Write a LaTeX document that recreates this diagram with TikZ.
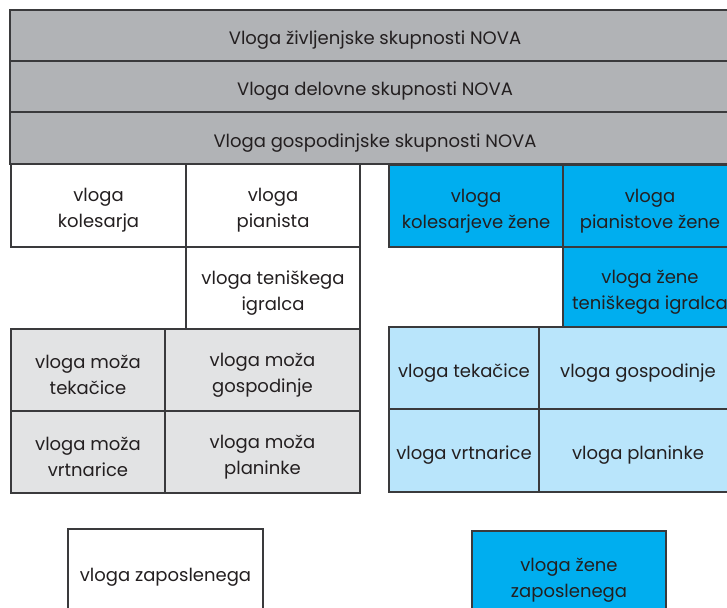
\documentclass[tikz,border=0pt]{standalone}
\usepackage{fontspec}
\setmainfont{Poppins}
\definecolor{bargray}{HTML}{B1B3B6}
\definecolor{lightgray}{HTML}{E2E3E4}
\definecolor{cyanblue}{HTML}{00AEEF}
\definecolor{paleblue}{HTML}{B9E5FB}
\definecolor{edge}{HTML}{3A3A3C}
\definecolor{ink}{HTML}{231F20}
\tikzset{
  lbl/.style={align=center, text=ink, inner sep=0pt, yshift=-5pt,
    font=\fontsize{18}{26}\selectfont},
  cell/.style={draw=edge, line width=1.1pt, rectangle, inner sep=0pt,
    label={[lbl]center:{#1}}},
  bar/.style={cell=#1, fill=bargray, minimum width=730pt, minimum height=51pt},
  whitecell/.style={cell=#1, fill=white},
  greycell/.style={cell=#1, fill=lightgray},
  bluecell/.style={cell=#1, fill=cyanblue},
  palecell/.style={cell=#1, fill=paleblue},
}
\begin{document}
\begin{tikzpicture}[x=1pt, y=-1pt]
\useasboundingbox (0,0) rectangle (727,607);
\clip (0,0) rectangle (727,607);
% header bars
\node[bar={Vloga življenjske skupnosti NOVA}] (life) at (375,35.5) {};
\node[bar={Vloga delovne skupnosti NOVA}] (work) at (375,86.5) {};
\node[bar={Vloga gospodinjske skupnosti NOVA}, minimum height=52pt] (home) at (375,138) {};
% husband side
\node[whitecell={vloga\\kolesarja}, minimum width=175pt, minimum height=83pt] (cyc) at (98.5,205.5) {};
\node[whitecell={vloga\\pianista}, minimum width=174pt, minimum height=83pt] (pia) at (273,205.5) {};
\node[whitecell={vloga teniškega\\igralca}, minimum width=174pt, minimum height=82pt] (ten) at (273,288) {};
\node[greycell={vloga moža\\tekačice}, minimum width=154pt, minimum height=82pt] (mrun) at (88,370) {};
\node[greycell={vloga moža\\gospodinje}, minimum width=195pt, minimum height=82pt] (mhouse) at (262.5,370) {};
\node[greycell={vloga moža\\vrtnarice}, minimum width=154pt, minimum height=82pt] (mgard) at (88,452) {};
\node[greycell={vloga moža\\planinke}, minimum width=195pt, minimum height=82pt] (mhike) at (262.5,452) {};
% wife side
\node[bluecell={vloga\\kolesarjeve žene}, minimum width=174pt, minimum height=82pt] (wcyc) at (476,206) {};
\node[bluecell={vloga\\pianistove žene}, minimum width=174pt, minimum height=82pt] (wpia) at (650,206) {};
\node[bluecell={vloga žene\\teniškega igralca}, minimum width=174pt, minimum height=80pt] (wten) at (650,287) {};
\node[palecell={vloga tekačice}, minimum width=150pt, minimum height=82pt] (run) at (464,368) {};
\node[palecell={vloga gospodinje}, minimum width=198pt, minimum height=82pt] (house) at (638,368) {};
\node[palecell={vloga vrtnarice}, minimum width=150pt, minimum height=83pt] (gard) at (464,450.5) {};
\node[palecell={vloga planinke}, minimum width=198pt, minimum height=83pt] (hike) at (638,450.5) {};
% employment
\node[whitecell={vloga zaposlenega}, minimum width=195pt, minimum height=87pt] (emp) at (165.5,572.5) {};
\node[bluecell={vloga žene\\zaposlenega}, minimum width=194pt, minimum height=88pt] (wemp) at (569,575) {};
\end{tikzpicture}
\end{document}
